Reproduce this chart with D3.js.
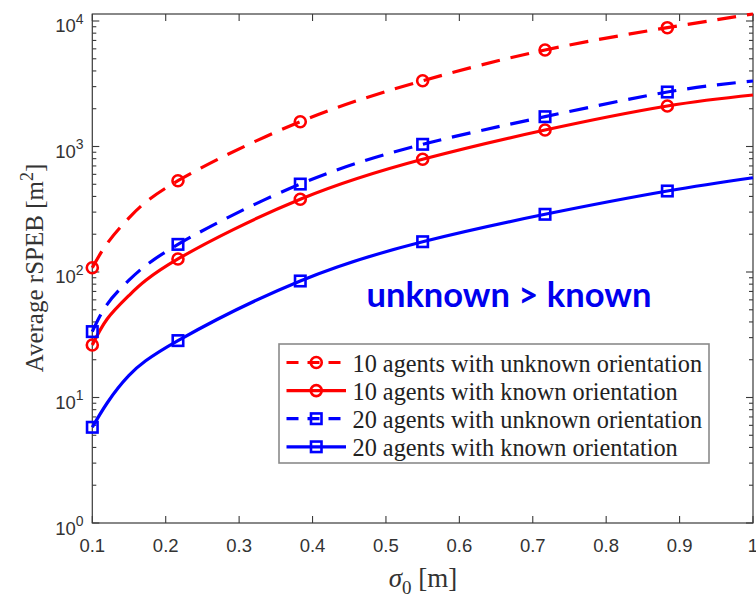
<!DOCTYPE html>
<html>
<head>
<meta charset="utf-8">
<script src="https://cdn.jsdelivr.net/npm/d3@7"></script>
<style>
  html, body { margin: 0; padding: 0; background: #fff; }
  svg { display: block; }
</style>
</head>
<body>
<svg id="chart" width="756" height="599"></svg>
<script>
// sigma_0 sample positions along each curve [m]
const sigma = [0.1, 0.12, 0.15, 0.2167, 0.3833, 0.55, 0.7167, 0.8833, 1.0];
// which samples carry a marker
const markerIndex = [0, 3, 4, 5, 6, 7];

// Average rSPEB [m^2]
const unknown10 = [108, 168, 270, 534, 1576, 3343, 5873, 8846, 11370];
const known10   = [26.2, 42, 65, 127, 380, 791, 1353, 2103, 2572];
const unknown20 = [33.5, 55, 86, 166, 502, 1041, 1728, 2717, 3326];
const known20   = [5.79, 9.0, 15.0, 28.4, 84.8, 174.3, 288.3, 442, 564];

const seriesNames = [
  "10 agents with unknown orientation",
  "10 agents with known orientation",
  "20 agents with unknown orientation",
  "20 agents with known orientation"
];
const seriesColors = ["#ff0000", "#ff0000", "#0000ff", "#0000ff"];
const seriesDashed = [true, false, true, false];
const seriesMarker = ["circle", "circle", "square", "square"];
const seriesValues = [unknown10, known10, unknown20, known20];

const xTicks = [0.1, 0.2, 0.3, 0.4, 0.5, 0.6, 0.7, 0.8, 0.9, 1];
const yTicks = [1, 10, 100, 1000, 10000];

const svg = d3.select("#chart");
const plotL = 92.3, plotR = 753, plotT = 14, plotB = 523;
const axisColor = "#3a3a3a";

const x = d3.scaleLinear().domain([0.1, 1]).range([plotL, plotR]);
const y = d3.scaleLog().domain([1, 11370]).range([plotB, plotT]);

// plot frame
svg.append("rect")
  .attr("x", plotL).attr("y", plotT)
  .attr("width", plotR - plotL).attr("height", plotB - plotT)
  .attr("fill", "none").attr("stroke", axisColor).attr("stroke-width", 1.2);

// ticks (inward, mirrored on opposite sides)
const tickG = svg.append("g").attr("stroke", axisColor).attr("stroke-width", 1.1);
xTicks.forEach(v => {
  const px = x(v);
  tickG.append("line").attr("x1", px).attr("x2", px).attr("y1", plotB).attr("y2", plotB - 7);
  tickG.append("line").attr("x1", px).attr("x2", px).attr("y1", plotT).attr("y2", plotT + 7);
});
const minorY = [];
for (let e = 0; e < 5; e++) {
  for (let m = 2; m <= 9; m++) {
    const v = m * Math.pow(10, e);
    if (v <= y.domain()[1]) minorY.push(v);
  }
}
yTicks.forEach(v => {
  const py = y(v);
  tickG.append("line").attr("x1", plotL).attr("x2", plotL + 7).attr("y1", py).attr("y2", py);
  tickG.append("line").attr("x1", plotR).attr("x2", plotR - 7).attr("y1", py).attr("y2", py);
});
minorY.forEach(v => {
  const py = y(v);
  tickG.append("line").attr("x1", plotL).attr("x2", plotL + 4).attr("y1", py).attr("y2", py);
  tickG.append("line").attr("x1", plotR).attr("x2", plotR - 4).attr("y1", py).attr("y2", py);
});

// x tick labels
svg.append("g")
  .selectAll("text").data(xTicks).join("text")
  .attr("x", d => x(d)).attr("y", 552)
  .attr("text-anchor", "middle")
  .attr("font-family", "Liberation Sans, Arial, sans-serif")
  .attr("font-size", 18.5).attr("fill", "#333")
  .text(d => d === 1 ? "1" : d3.format(".1f")(d));

// y tick labels as 10^n
const yLab = svg.append("g")
  .attr("font-family", "Liberation Sans, Arial, sans-serif")
  .attr("fill", "#333");
yTicks.forEach(v => {
  const py = y(v);
  const t = yLab.append("text").attr("x", 83.5).attr("y", py + 11.5).attr("text-anchor", "end");
  t.append("tspan").attr("font-size", 18.5).text("10");
  t.append("tspan").attr("font-size", 14).attr("dy", -8.5).text(String(Math.round(Math.log10(v))));
});

// axis titles
const xTitle = svg.append("text")
  .attr("x", 423).attr("y", 587)
  .attr("text-anchor", "middle")
  .attr("font-family", "Liberation Serif, Times New Roman, serif")
  .attr("font-size", 27).attr("fill", "#333");
xTitle.append("tspan").attr("font-style", "italic").text("σ");
xTitle.append("tspan").attr("font-size", 19).attr("dy", 7).text("0");
xTitle.append("tspan").attr("dy", -7).text(" [m]");

const yTitle = svg.append("text")
  .attr("transform", "translate(43,268) rotate(-90)")
  .attr("text-anchor", "middle")
  .attr("font-family", "Liberation Serif, Times New Roman, serif")
  .attr("font-size", 25).attr("fill", "#333");
yTitle.append("tspan").text("Average rSPEB [m");
yTitle.append("tspan").attr("font-size", 18).attr("dy", -10).text("2");
yTitle.append("tspan").attr("dy", 10).text("]");

// curves
const line = d3.line()
  .x((d, i) => x(sigma[i]))
  .y(d => y(d))
  .curve(d3.curveNatural);

const plot = svg.append("g");
const markerSize = 12;

function drawMarker(g, type, cx, cy, color) {
  if (type === "circle") {
    g.append("circle").attr("cx", cx).attr("cy", cy).attr("r", markerSize / 2 - 0.5)
      .attr("fill", "none").attr("stroke", color).attr("stroke-width", 2.6);
  } else {
    const s = markerSize - 1.5;
    g.append("rect").attr("x", cx - s / 2).attr("y", cy - s / 2)
      .attr("width", s).attr("height", s)
      .attr("fill", "none").attr("stroke", color).attr("stroke-width", 2.6);
  }
}

seriesValues.forEach((vals, k) => {
  plot.append("path")
    .datum(vals)
    .attr("d", line)
    .attr("fill", "none")
    .attr("stroke", seriesColors[k])
    .attr("stroke-width", 3.2)
    .attr("stroke-dasharray", seriesDashed[k] ? "19,11" : null);
  markerIndex.forEach(i => {
    drawMarker(plot, seriesMarker[k], x(sigma[i]), y(vals[i]), seriesColors[k]);
  });
});

// legend
const legX = 279, legY = 344, legW = 430, legH = 119;
const leg = svg.append("g");
leg.append("rect")
  .attr("x", legX).attr("y", legY).attr("width", legW).attr("height", legH)
  .attr("fill", "#fff").attr("stroke", "#8a8a8a").attr("stroke-width", 1.6);
seriesNames.forEach((name, k) => {
  const cy = 362.5 + k * 28.1;
  const x0 = 286.5, x1 = 346, mx = (x0 + x1) / 2;
  leg.append("line")
    .attr("x1", x0).attr("x2", x1).attr("y1", cy).attr("y2", cy)
    .attr("stroke", seriesColors[k]).attr("stroke-width", 3.2)
    .attr("stroke-dasharray", seriesDashed[k] ? "12,9" : null);
  drawMarker(leg, seriesMarker[k], mx, cy, seriesColors[k]);
  leg.append("text")
    .attr("x", 352.5).attr("y", cy + 9.3)
    .attr("font-family", "Liberation Serif, Times New Roman, serif")
    .attr("font-size", 24.3).attr("fill", "#222")
    .text(name);
});

// annotation
svg.append("text")
  .attr("x", 366.5).attr("y", 306.5)
  .attr("font-family", "Lato, Open Sans, sans-serif")
  .attr("font-weight", "bold")
  .attr("font-size", 34.5)
  .attr("fill", "#0000ee")
  .text("unknown > known");
</script>
</body>
</html>
